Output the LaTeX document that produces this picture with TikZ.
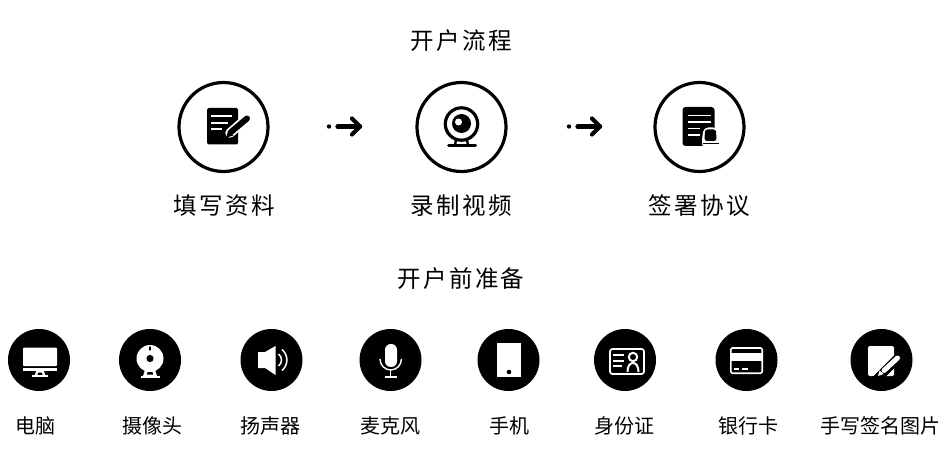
\documentclass[tikz,border=0pt]{standalone}
\usepackage{fontspec}
\setmainfont{Noto Sans CJK SC}
\newfontfamily\titlefont[LetterSpace=10]{Noto Sans CJK SC}
\tikzset{
  x=1pt,y=-1pt,
  outline/.style={circle,draw=black,line width=3.2pt,minimum size=89pt,inner sep=0pt},
  solid disc/.style={circle,fill=black,minimum size=62pt,inner sep=0pt},
  bigtext/.style={font=\titlefont\fontsize{23.5}{26}\selectfont,text=black,inner sep=0pt},
  smalltext/.style={font=\fontsize{20}{22}\selectfont,text=black,inner sep=0pt},
  flow/.style={line width=4.2pt,line cap=round,line join=round},
  wl/.style={white,line width=1.6pt},
}
\begin{document}
\begin{tikzpicture}
\useasboundingbox (0,0) rectangle (945,473);
% headings
\node[bigtext] (t1) at (461,41) {开户流程};
\node[bigtext] (t2) at (461,279) {开户前准备};
% top circles
\node[outline] (c1) at (223.5,127) {};
\node[outline] (c2) at (461.5,127) {};
\node[outline] (c3) at (699.5,127) {};
\node[bigtext] (l1) at (224,206) {填写资料};
\node[bigtext] (l2) at (461,206) {录制视频};
\node[bigtext] (l3) at (699,206) {签署协议};
% arrows
\coordinate (a1s) at (337.5,126.5); \coordinate (a1e) at (360,126.5);
\coordinate (a2s) at (577.5,126.5); \coordinate (a2e) at (600,126.5);
\fill (329,126.5) circle (2.2);
\fill (569,126.5) circle (2.2);
\draw[flow] (a1s) -- (a1e);
\draw[flow] (a2s) -- (a2e);
\draw[flow] (352,118.5) -- (a1e) -- (352,134.5);
\draw[flow] (592,118.5) -- (a2e) -- (592,134.5);
% doc + pen icon
\fill[rounded corners=1.5] (207,108) rectangle (238,144.5);
\draw[wl,line width=1.8pt] (211,116)--(232,116) (211,122.7)--(228,122.7) (211,129.3)--(222,129.3);
\draw[white,line width=9.5pt,line cap=round] (230,133)--(246,119);
\draw[black,line width=6pt,line cap=round] (231,132)--(247,118.5);
\fill[black] (226.5,137.5)--(228,130.5)--(233.5,135.5)--cycle;
% webcam icon
\draw[line width=3.2pt] (461.5,124) circle (16.2);
\fill (461.5,123.5) circle (9.5);
\fill[white] (458.5,122) circle (3.5);
\draw[line width=2.4pt] (456,140)--(455,145) (467,140)--(468,145);
\draw[line width=3pt,line cap=round] (448.5,145.5)--(475.5,145.5);
% doc + stamp icon
\fill[rounded corners=3] (682.5,107) rectangle (714.5,146);
\draw[wl,line width=1.8pt] (688,115.5)--(710.5,115.5) (688,122)--(710.5,122) (688,128.5)--(700,128.5) (688,135)--(700,135);
\fill[white,rounded corners=4] (702,148) -- (702,138) -- (704,127.5) -- (717,127.5) -- (719,138) -- (719,148) -- cycle;
\fill[rounded corners=2.5] (704.5,141) -- (705,129.5) -- (716,129.5) -- (716.5,141) -- cycle;
\draw[line width=1.6pt] (702.5,143.5)--(718.5,143.5);
% bottom discs
\node[solid disc] (d1) at (39,360) {};
\node[solid disc] (d2) at (150,360) {};
\node[solid disc] (d3) at (271.5,360) {};
\node[solid disc] (d4) at (390.5,360) {};
\node[solid disc] (d5) at (508.5,360) {};
\node[solid disc] (d6) at (625,360) {};
\node[solid disc] (d7) at (746.5,360) {};
\node[solid disc] (d8) at (881.5,360) {};
\node[smalltext] (s1) at (35,425.5) {电脑};
\node[smalltext] (s2) at (152,425.5) {摄像头};
\node[smalltext] (s3) at (270.5,425.5) {扬声器};
\node[smalltext] (s4) at (390,425.5) {麦克风};
\node[smalltext] (s5) at (509.5,425.5) {手机};
\node[smalltext] (s6) at (624,425.5) {身份证};
\node[smalltext] (s7) at (748,425.5) {银行卡};
\node[smalltext] (s8) at (880,425.5) {手写签名图片};
% monitor
\fill[white,rounded corners=1] (23,347.5) rectangle (57,366);
\fill[white] (23,367.5) rectangle (57,371);
\fill[white] (36,371)--(44,371)--(45,375)--(35,375)--cycle;
\fill[black] (38,372.5)--(42,372.5)--(42.5,375)--(37.5,375)--cycle;
\draw[white,line width=1.8pt] (32,376)--(48,376);
% webcam small
\fill[white] (150,358.5) circle (13.5);
\fill (150,358.5) circle (3.6);
\draw[black,line width=1.3pt,line cap=round] (150,347)--(150,350);
\fill[white] (145,370)--(155,370)--(157,376)--(143,376)--cycle;
\fill[black] (147.5,372)--(152.5,372)--(153,374.5)--(147,374.5)--cycle;
\draw[white,line width=2pt] (141,376.5)--(160,376.5);
% speaker
\fill[white] (258,352)--(265,352)--(275.5,346)--(275.5,375)--(265,368)--(258,368)--cycle;
\draw[white,line width=1.5pt] (278.5,354) .. controls (282.5,357) and (282.5,363) .. (278.5,366);
\draw[white,line width=1.5pt] (282,349.5) .. controls (288.5,355) and (288.5,365) .. (282,370.5);
% mic
\fill[white,rounded corners=5.8] (385,344) rectangle (397,367);
\draw[white,line width=1.4pt] (380,359) arc (180:0:10.7 and 11);
\draw[wl,line width=1.4pt] (390.7,370)--(390.7,377) (385,377)--(397,377);
% phone
\fill[white] (497,343) rectangle (521,377);
\fill (509,372) circle (2.3);
% id card
\draw[white,line width=1.7pt,rounded corners=2.5] (610,349) rectangle (644,374);
\draw[wl,line width=1.7pt] (613,355)--(624,355) (613,360.7)--(624,360.7) (613,366)--(622,366);
\draw[white,line width=2pt] (627.5,372) .. controls (627.5,366) and (630,363) .. (633,363) .. controls (636,363) and (638.5,366) .. (638.5,372);
\draw[white,line width=2pt] (633,357) circle (4.2);
% bank card
\draw[white,line width=1.6pt,rounded corners=1.5] (730.8,348) rectangle (762.2,373.2);
\fill[white] (730.5,352.5) rectangle (762.5,360.5);
\draw[white,line width=2pt] (734,369)--(738.5,369) (742,369)--(748,369);
% pen pad
\fill[white,rounded corners=2] (868,346) rectangle (894,376);
\draw[black,line width=9pt] (874,382)--(903,353);
\draw[white,line width=5pt,line cap=round] (884,370.5)--(897.5,358);
\fill[white] (878,376)--(879.5,370.5)--(883.5,374)--cycle;
\end{tikzpicture}
\end{document}
